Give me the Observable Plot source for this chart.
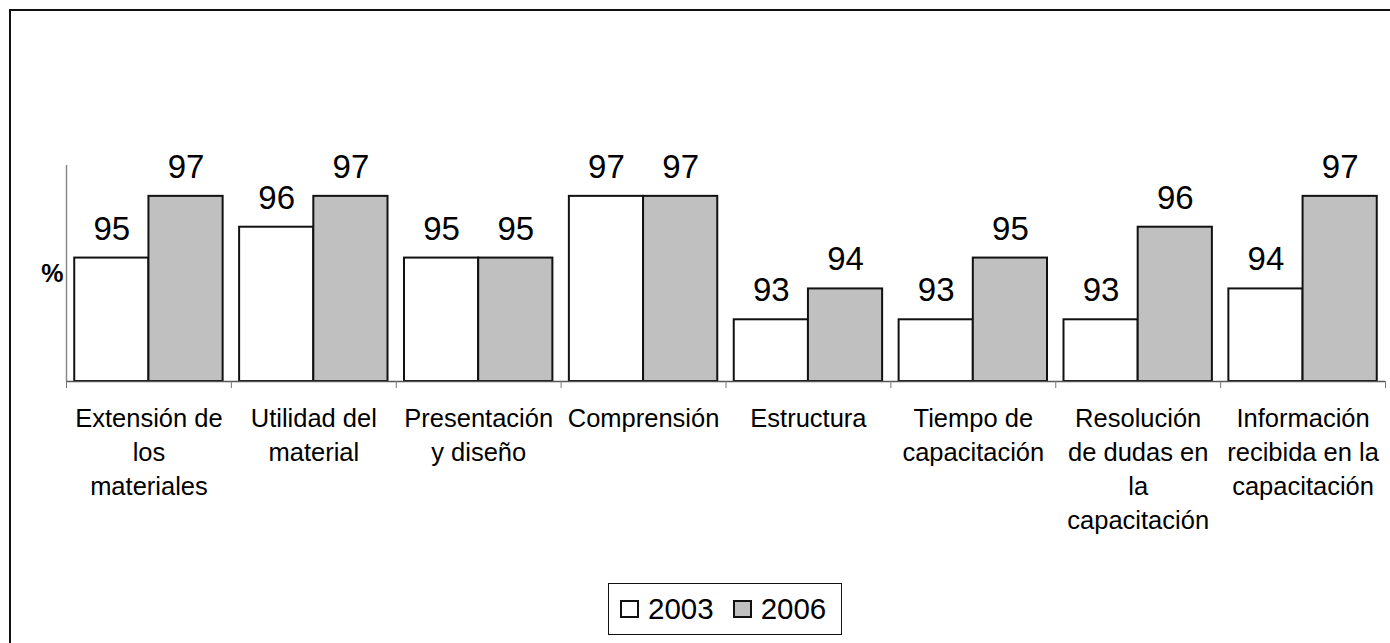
<!DOCTYPE html>
<html>
<head>
<meta charset="utf-8">
<script src="https://cdn.jsdelivr.net/npm/d3@7"></script>
<script src="https://cdn.jsdelivr.net/npm/@observablehq/plot@0.6"></script>
<style>
  html, body { margin: 0; padding: 0; background: #fff; overflow: hidden; }
  body { width: 1390px; height: 643px; position: relative; font-family: "Liberation Sans", Arial, sans-serif; }
  #frame { position: absolute; left: 9px; top: 9px; width: 1400px; height: 700px; border: 2px solid #111; box-sizing: border-box; }
  #chart { position: absolute; left: 0; top: 0; }
  #legend { position: absolute; left: 608px; top: 583px; width: 234px; height: 52px; border: 1.5px solid #111; box-sizing: border-box;
            display: flex; align-items: center; font-size: 29.5px; color: #000; }
  .sw { width: 19px; height: 18px; border: 2px solid #111; box-sizing: border-box; display: inline-block; }
  .item { display: flex; align-items: center; }
</style>
</head>
<body>
<div id="frame"></div>
<div id="chart"></div>
<div id="legend"></div>
<script>
const categories = [
  "Extensión de\nlos\nmateriales",
  "Utilidad del\nmaterial",
  "Presentación\ny diseño",
  "Comprensión",
  "Estructura",
  "Tiempo de\ncapacitación",
  "Resolución\nde dudas en\nla\ncapacitación",
  "Información\nrecibida en la\ncapacitación"
];
const years = ["2003", "2006"];
const values2003 = [95, 96, 95, 97, 93, 93, 93, 94];
const values2006 = [97, 97, 95, 97, 94, 95, 96, 97];
const yDomain = [91, 98];
const yearFills = ["#ffffff", "#c0c0c0"];

const rows = [];
categories.forEach((c, i) => {
  rows.push({i, cat: c, year: years[0], k: 0, value: values2003[i]});
  rows.push({i, cat: c, year: years[1], k: 1, value: values2006[i]});
});

const font = '"Liberation Sans", Arial, sans-serif';
const pad = 0.05;
const half = (1 - 2 * pad) / 2;

const plot = Plot.plot({
  width: 1390,
  height: 643,
  marginLeft: 66,
  marginRight: 5,
  marginTop: 165,
  marginBottom: 262,
  style: {fontFamily: font, background: "transparent"},
  x: {type: "linear", domain: [0, categories.length], axis: null},
  y: {domain: yDomain, axis: null},
  color: {domain: years, range: yearFills},
  marks: [
    Plot.rectY(rows, {
      x1: d => d.i + pad + d.k * half,
      x2: d => d.i + pad + (d.k + 1) * half,
      y1: yDomain[0],
      y2: "value",
      fill: "year",
      stroke: "#111",
      strokeWidth: 2
    }),
    Plot.text(rows, {
      x: d => d.i + pad + (d.k + 0.5) * half,
      y: "value",
      text: d => String(d.value),
      fontSize: 33,
      fill: "#000",
      textAnchor: "middle",
      lineAnchor: "bottom",
      dy: -18.5
    }),
    Plot.ruleX([0], {y1: yDomain[0], y2: yDomain[1], stroke: "#888", strokeWidth: 1.5}),
    Plot.ruleY([yDomain[0]], {x1: 0, x2: categories.length, stroke: "#555", strokeWidth: 1.5}),
    Plot.axisX({ticks: d3.range(categories.length + 1), tickFormat: () => "", tickSize: 7, stroke: "#777"}),
    Plot.text(categories, {
      x: (d, i) => i + 0.5,
      y: yDomain[0],
      text: d => d,
      fontSize: 25.5,
      lineHeight: 34 / 25.5,
      fill: "#000",
      textAnchor: "middle",
      lineAnchor: "top",
      dy: 21
    }),
    Plot.text(["%"], {
      x: 0,
      frameAnchor: "middle",
      text: d => d,
      fontSize: 25,
      fontWeight: "bold",
      textAnchor: "end",
      dx: -3,
      fill: "#000"
    })
  ]
});
document.getElementById("chart").append(plot);

const legend = document.getElementById("legend");
years.forEach((y, j) => {
  const item = document.createElement("div");
  item.className = "item";
  item.style.marginLeft = j === 0 ? "11px" : "19px";
  const sw = document.createElement("span");
  sw.className = "sw";
  sw.style.background = yearFills[j];
  const lab = document.createElement("span");
  lab.textContent = y;
  lab.style.marginLeft = "9px";
  item.append(sw, lab);
  legend.append(item);
});
</script>
</body>
</html>
